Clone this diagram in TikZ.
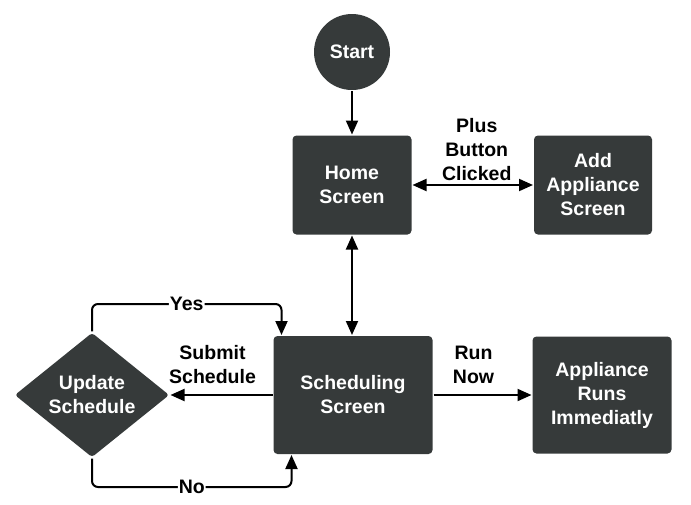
\documentclass[tikz,border=0pt]{standalone}
\usepackage{fontspec}
\setmainfont{Liberation Sans}
\usetikzlibrary{shapes.geometric,arrows.meta}
\definecolor{boxgray}{RGB}{54,58,58}

\begin{document}
\begin{tikzpicture}[x=1pt,y=1pt,->,>={Triangle[length=14pt,width=12pt]},line width=2pt,
        font=\fontsize{19.5}{24}\selectfont\bfseries]
        \tikzstyle{block}=[
            rectangle,rounded corners=4pt,fill=boxgray,text=white,align=center,
            minimum width=119pt,minimum height=99pt,inner sep=0pt
        ]
        \tikzstyle{start}=[circle,fill=boxgray,text=white,minimum size=76pt,inner sep=0pt]
        \tikzstyle{decision}=[diamond,rounded corners=3pt,fill=boxgray,text=white,align=center,
            minimum width=155pt,minimum height=115pt,inner sep=0pt]
        \tikzstyle{annot}=[align=center,text=black]
        \tikzstyle{tag}=[fill=white,inner sep=1pt]

        \useasboundingbox (0,0) rectangle (691,-504);

        % Draw the screens
        \node[block] (home) at (352,-185) {Home\\Screen};
        \node[start,above of=home,node distance=133pt] (start) {Start};
        \node[block,right of=home,node distance=241pt,minimum width=118pt] (add) {Add\\Appliance\\Screen};
        \node[block,below of=home,node distance=210pt,xshift=1pt,minimum width=159pt,minimum height=118pt] (sched) {Scheduling\\Screen};
        \node[block,right of=sched,node distance=249pt,minimum width=139pt,minimum height=117pt] (runs) {Appliance\\Runs\\Immediatly};
        \node[decision,left of=sched,node distance=261pt] (update) {Update\\Schedule};

        % Loop ends on the scheduling screen
        \coordinate (yesend) at ([xshift=9pt]sched.north west);
        \coordinate (noend) at ([xshift=19pt]sched.south west);

        % Connect the screens
        \draw (start) -- (home);
        \draw[<->] (home) -- node[annot,above,xshift=4pt] {Plus\\Button\\Clicked} (add);
        \draw[<->] (home.south) -- (home.south |- sched.north);
        \draw (sched) -- node[annot,above=7pt,xshift=-9pt] {Submit\\Schedule} (update);
        \draw (sched) -- node[annot,above=7pt,xshift=-9pt] {Run\\Now} (runs);

        % Answers of the decision
        \draw[rounded corners=6pt] (update.north) |- node[tag,pos=0.75] {Yes} ([yshift=31pt]yesend) -- (yesend);
        \draw[rounded corners=6pt] (update.south) |- node[tag,pos=0.75] {No} ([yshift=-32pt]noend) -- (noend);
\end{tikzpicture}
\end{document}
